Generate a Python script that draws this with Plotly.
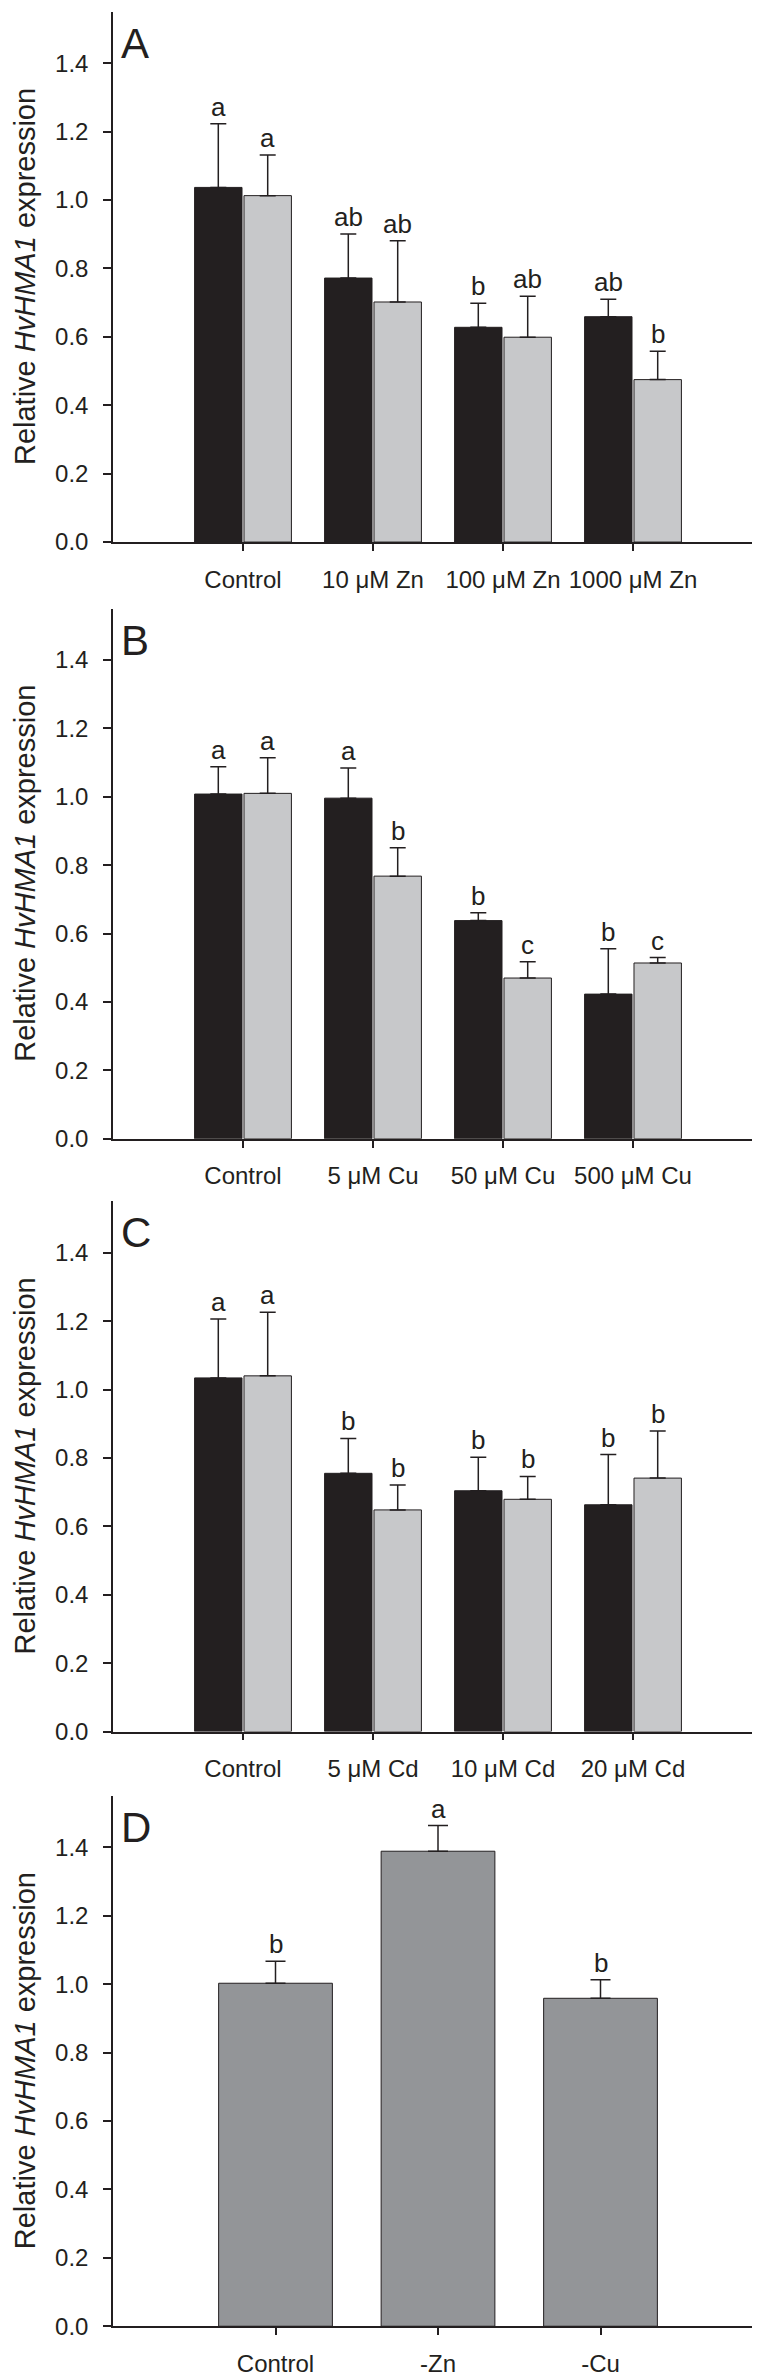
import plotly.graph_objects as go

# Panel A - Zn
A_CATS = ["Control", "10 μM Zn", "100 μM Zn", "1000 μM Zn"]
A_BLACK = [1.037, 0.772, 0.628, 0.659]
A_BLACK_ERR = [0.186, 0.129, 0.070, 0.051]
A_BLACK_SIG = ["a", "ab", "b", "ab"]
A_GRAY = [1.013, 0.702, 0.599, 0.475]
A_GRAY_ERR = [0.119, 0.179, 0.120, 0.083]
A_GRAY_SIG = ["a", "ab", "ab", "b"]

# Panel B - Cu
B_CATS = ["Control", "5 μM Cu", "50 μM Cu", "500 μM Cu"]
B_BLACK = [1.008, 0.996, 0.638, 0.423]
B_BLACK_ERR = [0.080, 0.088, 0.023, 0.133]
B_BLACK_SIG = ["a", "a", "b", "b"]
B_GRAY = [1.010, 0.768, 0.470, 0.514]
B_GRAY_ERR = [0.104, 0.083, 0.048, 0.016]
B_GRAY_SIG = ["a", "b", "c", "c"]

# Panel C - Cd
C_CATS = ["Control", "5 μM Cd", "10 μM Cd", "20 μM Cd"]
C_BLACK = [1.034, 0.755, 0.704, 0.663]
C_BLACK_ERR = [0.172, 0.102, 0.098, 0.147]
C_BLACK_SIG = ["a", "b", "b", "b"]
C_GRAY = [1.040, 0.648, 0.679, 0.741]
C_GRAY_ERR = [0.186, 0.073, 0.067, 0.138]
C_GRAY_SIG = ["a", "b", "b", "b"]

# Panel D - deficiency
D_CATS = ["Control", "-Zn", "-Cu"]
D_VALS = [1.003, 1.389, 0.959]
D_ERR = [0.064, 0.075, 0.054]
D_SIG = ["b", "a", "b"]

Y_TICKS = [0.0, 0.2, 0.4, 0.6, 0.8, 1.0, 1.2, 1.4]

INK = "#231f20"
BLACK_FILL = "#231f20"
GRAY_FILL = "#c7c8ca"
D_FILL = "#939598"
FONT = "Arial, 'Liberation Sans', sans-serif"
H = 2377

# (top, bottom) of each plot area in px
PANELS = [(4, 537), (604, 1137), (1200, 1733), (1798, 2331)]


def _dom(top, bottom):
    return [1 - bottom / H, 1 - top / H]


def _err(vals, cap):
    return dict(type="data", array=vals, arrayminus=[0] * len(vals), symmetric=False,
                color=INK, thickness=1.5, width=cap)


def _sig(x, y, xa, ya, txt):
    return dict(x=x, y=y, xref=xa, yref=ya, text=txt, showarrow=False,
                yanchor="bottom", font=dict(size=26))


fig = go.Figure()
annotations = []

paired = [
    (A_CATS, A_BLACK, A_BLACK_ERR, A_BLACK_SIG, A_GRAY, A_GRAY_ERR, A_GRAY_SIG),
    (B_CATS, B_BLACK, B_BLACK_ERR, B_BLACK_SIG, B_GRAY, B_GRAY_ERR, B_GRAY_SIG),
    (C_CATS, C_BLACK, C_BLACK_ERR, C_BLACK_SIG, C_GRAY, C_GRAY_ERR, C_GRAY_SIG),
]

for i, (cats, bk, bke, bks, gy, gye, gys) in enumerate(paired):
    n = i + 1
    xa, ya = ("x", "y") if n == 1 else (f"x{n}", f"y{n}")
    fig.add_trace(go.Bar(x=cats, y=bk, xaxis=xa, yaxis=ya, offsetgroup="k",
                         marker=dict(color=BLACK_FILL, line=dict(color=INK, width=1)),
                         error_y=_err(bke, 8), showlegend=False))
    fig.add_trace(go.Bar(x=cats, y=gy, xaxis=xa, yaxis=ya, offsetgroup="g",
                         marker=dict(color=GRAY_FILL, line=dict(color=INK, width=1)),
                         error_y=_err(gye, 8), showlegend=False))
    for j in range(len(cats)):
        annotations.append(_sig(j - 0.19, bk[j] + bke[j], xa, ya, bks[j]))
        annotations.append(_sig(j + 0.19, gy[j] + gye[j], xa, ya, gys[j]))

fig.add_trace(go.Bar(x=D_CATS, y=D_VALS, xaxis="x4", yaxis="y4", width=0.7,
                     marker=dict(color=D_FILL, line=dict(color=INK, width=1)),
                     error_y=_err(D_ERR, 10), showlegend=False))
for j in range(len(D_CATS)):
    annotations.append(_sig(j, D_VALS[j] + D_ERR[j], "x4", "y4", D_SIG[j]))

layout = dict(
    width=760, height=H,
    margin=dict(l=105, r=5, t=0, b=0),
    paper_bgcolor="white", plot_bgcolor="white",
    font=dict(family=FONT, size=24, color=INK),
    barmode="group", bargap=0.24, bargroupgap=0.04,
    showlegend=False,
)

for i, (top, bottom) in enumerate(PANELS):
    n = i + 1
    sfx = "" if n == 1 else str(n)
    ncat = 3 if n == 4 else 4
    layout[f"xaxis{sfx}"] = dict(
        domain=[0, 1], anchor=f"y{sfx}", type="category", range=[-1, ncat],
        showline=True, linecolor=INK, linewidth=1.5, showgrid=False, zeroline=False,
        ticks="outside", ticklen=7, tickwidth=1.5, tickcolor=INK,
        ticklabelstandoff=8, tickfont=dict(size=24),
    )
    layout[f"yaxis{sfx}"] = dict(
        domain=_dom(top, bottom), anchor=f"x{sfx}", range=[0, 1.55],
        tickvals=Y_TICKS, tickformat=".1f",
        showline=True, linecolor=INK, linewidth=1.5, showgrid=False, zeroline=False,
        ticks="outside", ticklen=8, tickwidth=1.5, tickcolor=INK,
        ticklabelstandoff=10, tickfont=dict(size=24),
    )
    annotations.append(dict(
        xref=f"x{sfx} domain", yref=f"y{sfx} domain", x=0, y=0.5, xshift=-88,
        text="Relative <i>HvHMA1</i> expression", textangle=-90, showarrow=False,
        xanchor="center", yanchor="middle", font=dict(size=29),
    ))
    annotations.append(dict(
        xref=f"x{sfx} domain", yref=f"y{sfx} domain", x=0, y=1, xshift=6, yshift=-6,
        text="ABCD"[i], showarrow=False, xanchor="left", yanchor="top",
        font=dict(size=42),
    ))

fig.update_layout(**layout, annotations=annotations)
fig.write_html("out.html")
